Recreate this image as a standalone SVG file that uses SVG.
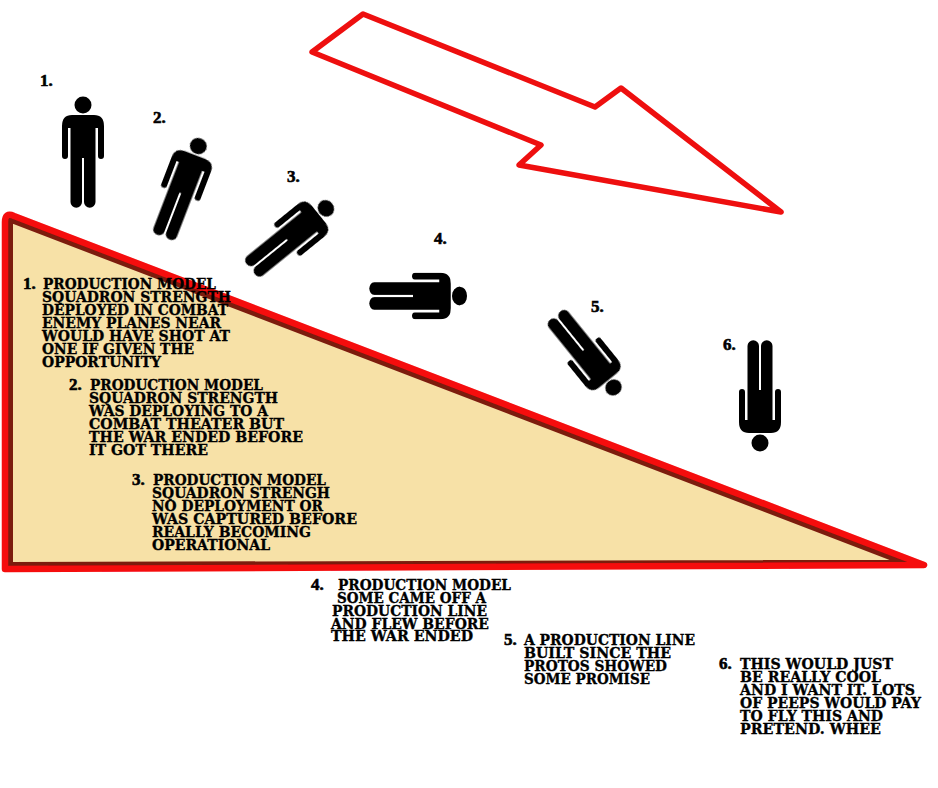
<svg xmlns="http://www.w3.org/2000/svg" xmlns:xlink="http://www.w3.org/1999/xlink" width="938" height="788" viewBox="0 0 938 788">
<style>
text{font-weight:700;fill:#000}
.b{font-family:"DejaVu Serif","Liberation Serif",serif;font-size:15px;stroke:#000;stroke-width:.35px}
.n{font-family:"Liberation Serif","DejaVu Serif",serif;font-size:17px;stroke:#000;stroke-width:.6px}
</style>
<defs>
<filter id="soft" x="-5%" y="-5%" width="110%" height="110%"><feGaussianBlur stdDeviation="0.6"/></filter>
<g id="person" filter="url(#soft)">
<circle cx="0" cy="-45" r="8.5" fill="#000"/>
<path fill="#000" d="M-11,-35H11Q21,-35 21,-24V6A3,3 0 0 1 15,6V-22H12.5V52A5.5,5.5 0 0 1 1,52V8H-1V52A5.5,5.5 0 0 1 -12.5,52V-22H-15V6A3,3 0 0 1 -21,6V-24Q-21,-35 -11,-35Z"/>
</g>
</defs>
<rect width="938" height="788" fill="#fff"/>
<g id="slope" filter="url(#soft)" stroke-linejoin="round">
<path d="M5,222Q5,212 14,216L924,565L5,569Z" fill="#f7e1a7"/>
<path d="M10,219.5L905,562.7L10,565Z" fill="none" stroke="#7c1a10" stroke-width="6"/>
<path d="M5,222Q5,212 14,216L924,565L5,569Z" fill="none" stroke="#f5080a" stroke-width="6.5"/>
</g>
<g id="arrow">
<path d="M363,14L595,107L621,88L781,212L519,165L541,145L312,52Z" fill="#fff" stroke="#ee0f0f" stroke-width="5.5" stroke-linejoin="round"/>
</g>
<g id="figure-1"><use xlink:href="#person" href="#person" transform="translate(83,150)"/><text class="n" x="40" y="86">1.</text></g>
<g id="figure-2"><use xlink:href="#person" href="#person" transform="translate(183,186) rotate(21) scale(1,.95)"/><text class="n" x="153" y="123">2.</text></g>
<g id="figure-3"><use xlink:href="#person" href="#person" transform="translate(293,235) rotate(51) scale(1,.94)"/><text class="n" x="287" y="182">3.</text></g>
<g id="figure-4"><use xlink:href="#person" href="#person" transform="translate(420,296) rotate(90) scale(1.1,.88)"/><text class="n" x="434" y="244">4.</text></g>
<g id="figure-5"><use xlink:href="#person" href="#person" transform="translate(588,356) rotate(141) scale(1,.9)"/><text class="n" x="591" y="312">5.</text></g>
<g id="figure-6"><use xlink:href="#person" href="#person" transform="translate(760,398) rotate(180)"/><text class="n" x="723" y="350">6.</text></g>
<g id="note-1">
<text class="n" x="23" y="289">1.</text>
<text class="b" x="43" y="289" textLength="173" lengthAdjust="spacingAndGlyphs">PRODUCTION MODEL</text>
<text class="b" x="42" y="302" textLength="189" lengthAdjust="spacingAndGlyphs">SQUADRON STRENGTH</text>
<text class="b" x="42" y="315" textLength="186" lengthAdjust="spacingAndGlyphs">DEPLOYED IN COMBAT</text>
<text class="b" x="42" y="328" textLength="179" lengthAdjust="spacingAndGlyphs">ENEMY PLANES NEAR</text>
<text class="b" x="42" y="341" textLength="188" lengthAdjust="spacingAndGlyphs">WOULD HAVE SHOT AT</text>
<text class="b" x="42" y="354" textLength="152" lengthAdjust="spacingAndGlyphs">ONE IF GIVEN THE</text>
<text class="b" x="42" y="367" textLength="119" lengthAdjust="spacingAndGlyphs">OPPORTUNITY</text>
</g>
<g id="note-2">
<text class="n" x="69" y="390">2.</text>
<text class="b" x="90" y="390" textLength="173" lengthAdjust="spacingAndGlyphs">PRODUCTION MODEL</text>
<text class="b" x="89" y="403" textLength="189" lengthAdjust="spacingAndGlyphs">SQUADRON STRENGTH</text>
<text class="b" x="89" y="416" textLength="179" lengthAdjust="spacingAndGlyphs">WAS DEPLOYING TO A</text>
<text class="b" x="89" y="429" textLength="195" lengthAdjust="spacingAndGlyphs">COMBAT THEATER BUT</text>
<text class="b" x="89" y="442" textLength="214" lengthAdjust="spacingAndGlyphs">THE WAR ENDED BEFORE</text>
<text class="b" x="89" y="455" textLength="119" lengthAdjust="spacingAndGlyphs">IT GOT THERE</text>
</g>
<g id="note-3">
<text class="n" x="132" y="485">3.</text>
<text class="b" x="153" y="485" textLength="173" lengthAdjust="spacingAndGlyphs">PRODUCTION MODEL</text>
<text class="b" x="152" y="498" textLength="178" lengthAdjust="spacingAndGlyphs">SQUADRON STRENGH</text>
<text class="b" x="152" y="511" textLength="171" lengthAdjust="spacingAndGlyphs">NO DEPLOYMENT OR</text>
<text class="b" x="152" y="524" textLength="205" lengthAdjust="spacingAndGlyphs">WAS CAPTURED BEFORE</text>
<text class="b" x="152" y="537" textLength="159" lengthAdjust="spacingAndGlyphs">REALLY BECOMING</text>
<text class="b" x="152" y="550" textLength="118" lengthAdjust="spacingAndGlyphs">OPERATIONAL</text>
</g>
<g id="note-4">
<text class="n" x="311" y="590">4.</text>
<text class="b" x="338" y="590" textLength="173" lengthAdjust="spacingAndGlyphs">PRODUCTION MODEL</text>
<text class="b" x="337" y="603" textLength="149" lengthAdjust="spacingAndGlyphs">SOME CAME OFF A</text>
<text class="b" x="332" y="616" textLength="155" lengthAdjust="spacingAndGlyphs">PRODUCTION LINE</text>
<text class="b" x="331" y="629" textLength="158" lengthAdjust="spacingAndGlyphs">AND FLEW BEFORE</text>
<text class="b" x="331" y="641" textLength="142" lengthAdjust="spacingAndGlyphs">THE WAR ENDED</text>
</g>
<g id="note-5">
<text class="n" x="504" y="645">5.</text>
<text class="b" x="524" y="645" textLength="171" lengthAdjust="spacingAndGlyphs">A PRODUCTION LINE</text>
<text class="b" x="524" y="658" textLength="147" lengthAdjust="spacingAndGlyphs">BUILT SINCE THE</text>
<text class="b" x="524" y="671" textLength="143" lengthAdjust="spacingAndGlyphs">PROTOS SHOWED</text>
<text class="b" x="524" y="684" textLength="126" lengthAdjust="spacingAndGlyphs">SOME PROMISE</text>
</g>
<g id="note-6">
<text class="n" x="719" y="669">6.</text>
<text class="b" x="740" y="669" textLength="153" lengthAdjust="spacingAndGlyphs">THIS WOULD JUST</text>
<text class="b" x="740" y="682" textLength="141" lengthAdjust="spacingAndGlyphs">BE REALLY COOL</text>
<text class="b" x="740" y="695" textLength="175" lengthAdjust="spacingAndGlyphs">AND I WANT IT. LOTS</text>
<text class="b" x="740" y="708" textLength="181" lengthAdjust="spacingAndGlyphs">OF PEEPS WOULD PAY</text>
<text class="b" x="740" y="721" textLength="143" lengthAdjust="spacingAndGlyphs">TO FLY THIS AND</text>
<text class="b" x="740" y="734" textLength="141" lengthAdjust="spacingAndGlyphs">PRETEND. WHEE</text>
</g>
</svg>
